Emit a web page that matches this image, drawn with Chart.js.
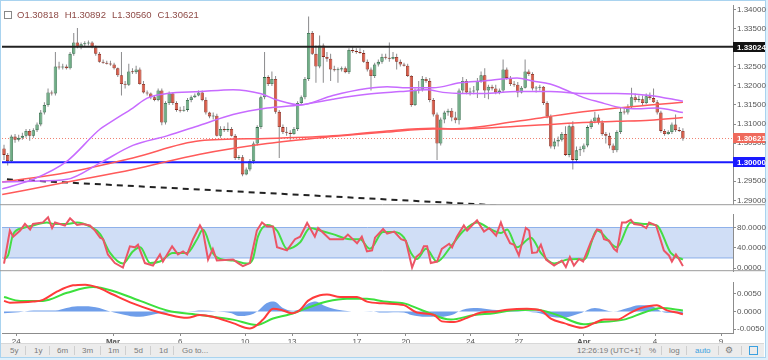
<!DOCTYPE html>
<html><head><meta charset="utf-8">
<script src="https://cdn.jsdelivr.net/npm/chart.js@4.4.1/dist/chart.umd.min.js"></script>
<style>
html,body{margin:0;padding:0;background:#dff0fb;}
#wrap{position:relative;width:768px;height:360px;overflow:hidden;background:#dff0fb;font-family:"Liberation Sans",Arial,sans-serif;}
#frame{position:absolute;left:0;top:0;width:764px;height:356px;border:1px solid #a9d3ef;background:#fff;}
canvas{position:absolute;left:0;}
#legend{position:absolute;left:4px;top:9px;font-size:9.5px;color:#8e4a46;white-space:nowrap;}
#legend .ic{display:inline-block;width:6px;height:6px;border:1px solid #888;margin-right:5px;position:relative;top:1px;}
#legend span{margin-right:6px;}
#tb{position:absolute;left:1px;top:343px;width:763px;height:13px;background:#ececec;border-top:1px solid #d8d8d8;font-size:8px;color:#7a7a7a;}
#tb span{position:absolute;top:2px;}
#tb i{position:absolute;top:2px;width:1px;height:9px;background:#cfcfcf;}
</style></head><body>
<div id="wrap">
<div id="frame"></div>
<canvas id="c1" width="768" height="210" style="top:0"></canvas>
<canvas id="c2" width="768" height="68" style="top:209px"></canvas>
<canvas id="c3" width="768" height="69" style="top:277px"></canvas>
<div id="legend"><span class="ic"></span><span>O1.30818</span><span>H1.30892</span><span>L1.30560</span><span>C1.30621</span></div>
<div id="tb">
<span style="left:9px">5y</span><i style="left:24px"></i>
<span style="left:33px">1y</span><i style="left:48px"></i>
<span style="left:56px">6m</span><i style="left:73px"></i>
<span style="left:81px">3m</span><i style="left:99px"></i>
<span style="left:107px">1m</span><i style="left:124px"></i>
<span style="left:133px">5d</span><i style="left:149px"></i>
<span style="left:158px">1d</span><i style="left:172px"></i>
<span style="left:181px">Go to...</span>
<span style="left:576px">12:26:19 (UTC+1)</span><i style="left:639px"></i>
<span style="left:648px">%</span><i style="left:660px"></i>
<span style="left:668px">log</span><i style="left:685px"></i>
<span style="left:694px;color:#3aa0e0">auto</span><i style="left:717px"></i>
<span style="left:724px;font-size:9px;top:1px">&#9881;</span><i style="left:740px"></i>
<span style="left:748px;top:2px;width:7px;height:7px;border:1px solid #3aa0e0"></span>
</div>
</div>
<script>
// ---------- DATA ----------
const open = [1.3036,1.3019,1.3003,1.3067,1.3059,1.3064,1.3069,1.3082,1.3069,1.3084,
1.3099,1.3130,1.3150,1.3183,1.3180,1.3251,1.3248,1.3251,1.3246,1.3284,
1.3314,1.3301,1.3309,1.3311,1.3314,1.3301,1.3284,1.3263,1.3261,1.3258,
1.3256,1.3246,1.3228,1.3205,1.3203,1.3238,1.3236,1.3243,1.3205,1.3183,
1.3180,1.3170,1.3163,1.3188,1.3104,1.3155,1.3180,1.3155,1.3137,1.3135,
1.3137,1.3163,1.3170,1.3175,1.3183,1.3163,1.3130,1.3120,1.3122,1.3069,
1.3087,1.3084,1.3087,1.3069,1.3011,1.3013,1.2968,1.2981,1.3003,1.3049,
1.3092,1.3170,1.3223,1.3205,1.3218,1.3132,1.3092,1.3079,1.3077,1.3074,
1.3087,1.3155,1.3170,1.3218,1.3339,1.3284,1.3251,1.3306,1.3276,1.3271,
1.3243,1.3241,1.3243,1.3246,1.3236,1.3294,1.3291,1.3289,1.3286,1.3263,
1.3243,1.3226,1.3256,1.3263,1.3276,1.3274,1.3271,1.3276,1.3263,1.3256,
1.3253,1.3226,1.3150,1.3188,1.3190,1.3218,1.3213,1.3163,1.3125,1.3049,
1.3112,1.3130,1.3135,1.3117,1.3110,1.3188,1.3213,1.3183,1.3185,1.3188,
1.3213,1.3228,1.3188,1.3198,1.3193,1.3183,1.3188,1.3243,1.3221,1.3205,
1.3203,1.3183,1.3195,1.3238,1.3231,1.3193,1.3195,1.3198,1.3155,1.3120,
1.3041,1.3054,1.3059,1.3074,1.3019,1.3094,1.3006,1.3031,1.3034,1.3044,
1.3092,1.3107,1.3117,1.3104,1.3074,1.3069,1.3044,1.3031,1.3079,1.3132,
1.3130,1.3145,1.3170,1.3163,1.3165,1.3155,1.3173,1.3168,1.3157,1.3130,
1.3082,1.3074,1.3079,1.3099,1.3084,1.30818];
const high = [1.3046,1.3024,1.3072,1.3074,1.3072,1.3077,1.3087,1.3087,1.3089,1.3104,
1.3137,1.3157,1.3193,1.3188,1.3289,1.3263,1.3258,1.3256,1.3289,1.3339,
1.3352,1.3314,1.3317,1.3319,1.3317,1.3306,1.3289,1.3269,1.3266,1.3266,
1.3261,1.3248,1.3289,1.3213,1.3258,1.3246,1.3253,1.3248,1.3213,1.3188,
1.3183,1.3175,1.3193,1.3193,1.3160,1.3185,1.3183,1.3160,1.3145,1.3147,
1.3168,1.3175,1.3180,1.3188,1.3188,1.3170,1.3132,1.3130,1.3127,1.3094,
1.3094,1.3104,1.3092,1.3074,1.3019,1.3019,1.2986,1.3008,1.3054,1.3097,
1.3175,1.3289,1.3228,1.3238,1.3226,1.3137,1.3099,1.3092,1.3084,1.3092,
1.3160,1.3175,1.3223,1.3382,1.3344,1.3306,1.3332,1.3311,1.3289,1.3284,
1.3253,1.3248,1.3251,1.3251,1.3299,1.3301,1.3299,1.3299,1.3294,1.3269,
1.3248,1.3261,1.3269,1.3284,1.3284,1.3314,1.3289,1.3284,1.3269,1.3261,
1.3258,1.3228,1.3193,1.3213,1.3226,1.3223,1.3221,1.3168,1.3130,1.3117,
1.3135,1.3140,1.3142,1.3132,1.3193,1.3223,1.3218,1.3195,1.3200,1.3221,
1.3238,1.3246,1.3203,1.3203,1.3203,1.3193,1.3269,1.3248,1.3226,1.3213,
1.3210,1.3200,1.3269,1.3243,1.3236,1.3200,1.3203,1.3200,1.3160,1.3125,
1.3062,1.3067,1.3079,1.3094,1.3099,1.3107,1.3041,1.3041,1.3049,1.3097,
1.3112,1.3132,1.3125,1.3110,1.3079,1.3077,1.3049,1.3084,1.3142,1.3142,
1.3152,1.3195,1.3180,1.3175,1.3175,1.3180,1.3183,1.3193,1.3163,1.3135,
1.3087,1.3084,1.3104,1.3125,1.3092,1.30892];
const low = [1.3006,1.2991,1.2998,1.3051,1.3054,1.3059,1.3064,1.3056,1.3064,1.3079,
1.3094,1.3125,1.3145,1.3175,1.3175,1.3243,1.3243,1.3243,1.3243,1.3279,
1.3299,1.3296,1.3304,1.3306,1.3299,1.3279,1.3261,1.3258,1.3256,1.3253,
1.3243,1.3223,1.3175,1.3193,1.3200,1.3231,1.3231,1.3203,1.3180,1.3175,
1.3165,1.3160,1.3160,1.3097,1.3099,1.3150,1.3150,1.3132,1.3130,1.3132,
1.3132,1.3157,1.3168,1.3173,1.3160,1.3125,1.3115,1.3112,1.3067,1.3064,
1.3079,1.3079,1.3067,1.3006,1.3006,1.2963,1.2966,1.2976,1.2996,1.3044,
1.3087,1.3165,1.3200,1.3200,1.3127,1.3011,1.3074,1.3069,1.3059,1.3072,
1.3082,1.3150,1.3165,1.3213,1.3281,1.3208,1.3246,1.3208,1.3263,1.3213,
1.3238,1.3208,1.3238,1.3233,1.3231,1.3286,1.3284,1.3284,1.3261,1.3238,
1.3188,1.3221,1.3251,1.3258,1.3269,1.3263,1.3269,1.3243,1.3251,1.3251,
1.3223,1.3145,1.3147,1.3180,1.3185,1.3208,1.3157,1.3120,1.3006,1.3044,
1.3102,1.3122,1.3107,1.3102,1.3099,1.3180,1.3178,1.3175,1.3178,1.3168,
1.3208,1.3168,1.3165,1.3188,1.3178,1.3178,1.3183,1.3216,1.3200,1.3198,
1.3170,1.3180,1.3193,1.3226,1.3188,1.3183,1.3188,1.3150,1.3115,1.3036,
1.3034,1.3041,1.3054,1.3016,1.3013,1.2981,1.2998,1.3016,1.3026,1.3039,
1.3087,1.3102,1.3099,1.3069,1.3049,1.3036,1.3024,1.3026,1.3074,1.3125,
1.3125,1.3140,1.3157,1.3157,1.3150,1.3152,1.3163,1.3155,1.3125,1.3077,
1.3069,1.3072,1.3074,1.3079,1.3079,1.3056];
const close = [1.3019,1.3003,1.3067,1.3059,1.3064,1.3069,1.3082,1.3069,1.3084,1.3099,
1.3130,1.3150,1.3183,1.3180,1.3251,1.3248,1.3251,1.3246,1.3284,1.3314,
1.3301,1.3309,1.3311,1.3314,1.3301,1.3284,1.3263,1.3261,1.3258,1.3256,
1.3246,1.3228,1.3205,1.3203,1.3238,1.3236,1.3243,1.3205,1.3183,1.3180,
1.3170,1.3163,1.3188,1.3104,1.3155,1.3180,1.3155,1.3137,1.3135,1.3137,
1.3163,1.3170,1.3175,1.3183,1.3163,1.3130,1.3120,1.3122,1.3069,1.3087,
1.3084,1.3087,1.3069,1.3011,1.3013,1.2968,1.2981,1.3003,1.3049,1.3092,
1.3170,1.3223,1.3205,1.3218,1.3132,1.3092,1.3079,1.3077,1.3074,1.3087,
1.3155,1.3170,1.3218,1.3339,1.3284,1.3251,1.3306,1.3276,1.3271,1.3243,
1.3241,1.3243,1.3246,1.3236,1.3294,1.3291,1.3289,1.3286,1.3263,1.3243,
1.3226,1.3256,1.3263,1.3276,1.3274,1.3271,1.3276,1.3263,1.3256,1.3253,
1.3226,1.3150,1.3188,1.3190,1.3218,1.3213,1.3163,1.3125,1.3049,1.3112,
1.3130,1.3135,1.3117,1.3110,1.3188,1.3213,1.3183,1.3185,1.3188,1.3213,
1.3228,1.3188,1.3198,1.3193,1.3183,1.3188,1.3243,1.3221,1.3205,1.3203,
1.3183,1.3195,1.3238,1.3231,1.3193,1.3195,1.3198,1.3155,1.3120,1.3041,
1.3054,1.3059,1.3074,1.3019,1.3094,1.3006,1.3031,1.3034,1.3044,1.3092,
1.3107,1.3117,1.3104,1.3074,1.3069,1.3044,1.3031,1.3079,1.3132,1.3130,
1.3145,1.3170,1.3163,1.3165,1.3155,1.3173,1.3168,1.3157,1.3130,1.3082,
1.3074,1.3079,1.3099,1.3084,1.30818,1.30621];

// moving averages: [bar, price]
const maFastPurple = [[-0.5,1.2930],[7.9,1.2955],[17.2,1.3003],[26.2,1.3087],[30.2,1.3112],[35.1,1.3142],[39,1.3168],[44.4,1.3180],[53.4,1.3185],[62.4,1.3190],[69.8,1.3180],[74.4,1.3163],[80.7,1.3150],[89.6,1.3175],[98.9,1.3193],[104.4,1.3198],[109.8,1.3195],[116.9,1.3195],[124.3,1.3208],[130.5,1.3213],[139.8,1.3221],[144.1,1.3213],[148.8,1.3205],[153.4,1.3188],[157.8,1.3170],[162.4,1.3157],[167,1.3145],[171.4,1.3140],[177.9,1.3142],[185,1.3130]];
const maSlowPurple = [[-0.5,1.2948],[7.9,1.2950],[17.2,1.2955],[26.2,1.2998],[35.1,1.3044],[44.4,1.3069],[53.4,1.3097],[62.4,1.3125],[71.7,1.3142],[80.7,1.3150],[89.6,1.3165],[98.9,1.3178],[107.9,1.3185],[115.3,1.3190],[119.6,1.3183],[124.3,1.3180],[130.5,1.3180],[139.8,1.3185],[148.8,1.3185],[157.8,1.3180],[167,1.3180],[176,1.3175],[185,1.3160]];
const maFastRed = [[-0.5,1.2948],[17.2,1.2973],[35.1,1.3011],[53.4,1.3056],[71.7,1.3062],[89.6,1.3069],[104.4,1.3082],[116.9,1.3089],[122,1.3087],[139.8,1.3107],[148.8,1.3120],[157.8,1.3132],[167,1.3142],[176,1.3150],[185,1.3157]];
const maSlowRed = [[-0.5,1.2915],[17.2,1.2948],[35.1,1.2981],[53.4,1.3021],[71.7,1.3049],[89.6,1.3067],[104.4,1.3079],[116.9,1.3087],[124.3,1.3087],[139.8,1.3094],[148.8,1.3099],[157.8,1.3104],[167,1.3107],[176,1.3110],[185,1.3117]];
const trendLine = [[0.8,1.2955],[134.3,1.2887]];
const resistance = 1.33024;
const support = 1.30000;

// stochastic: [bar, value]
const stochK = [[0,9],[1.6,74],[2.5,62],[4.4,74],[5.7,87],[7.1,76],[7.9,87],[10.6,90],[12,100],[13.1,79],[13.9,90],[16.6,84],[18,98],[19.9,85],[21.5,87],[23.4,84],[24.8,74],[26.2,60],[27,57],[28.3,27],[30.2,10],[32.4,1],[34.3,43],[35.7,41],[36.5,46],[38.4,10],[40.6,5],[42.5,27],[43.3,13],[45.8,43],[47.4,27],[48.8,33],[49.9,27],[51.5,57],[53.4,84],[54.2,74],[55.6,17],[56.9,38],[58,15],[62.4,17],[63.8,10],[65.1,4],[67,10],[68.9,74],[70.3,90],[71.7,82],[73.3,82],[74.4,41],[77.1,35],[79.3,57],[80.7,62],[82.6,89],[84.7,62],[85.6,79],[88.8,57],[92.4,57],[93.7,66],[96.2,49],[97.5,62],[98.9,33],[100.3,35],[101.1,60],[103.3,77],[104.4,68],[106.3,72],[108.2,57],[109.5,54],[111.2,1],[112.3,22],[113.6,30],[114.4,43],[115.3,43],[116.3,10],[118,13],[119.3,38],[121.3,48],[122.1,41],[123.4,62],[125.3,84],[126.2,74],[127.5,84],[128.9,94],[130.8,72],[132.2,79],[134.1,64],[135.4,90],[136.2,74],[137.9,49],[139,46],[140.3,25],[142.2,79],[143.1,74],[143.9,30],[145.2,31],[146.3,46],[147.7,17],[149.9,5],[152,15],[153.1,2],[154.2,22],[155.3,5],[156.7,18],[157.8,13],[159.9,51],[161.6,76],[162.7,74],[163.5,57],[164.9,54],[166.2,38],[167,33],[168.4,90],[169.5,90],[170.8,95],[171.7,87],[173.6,85],[175,79],[175.8,90],[177.7,84],[179.8,35],[181.2,25],[182,13],[183.1,27],[184,17],[185,4]];
const stochD = [[0,18],[1.1,25],[2.5,67],[5.2,79],[7.9,84],[11.7,90],[13.4,87],[17.2,87],[19.9,90],[23.4,82],[26.2,67],[28.9,30],[32.4,9],[35.1,33],[37.1,41],[39.8,10],[42.5,13],[46,30],[49.9,30],[52.6,57],[54.2,76],[56.9,30],[58.9,18],[62.4,15],[66.2,9],[67.8,18],[69.2,62],[71.7,85],[74.4,74],[77.1,38],[80.7,51],[83.4,79],[86.1,74],[89.6,67],[94.3,57],[97,57],[99.7,38],[103.3,71],[106.3,71],[109,60],[110.9,30],[112.5,18],[115,38],[118,13],[121.8,43],[125.3,74],[128.9,90],[132.7,76],[135.4,69],[137.1,76],[139.8,41],[143.6,60],[146.3,30],[149.9,9],[153.5,17],[156.2,18],[158.1,17],[161.6,74],[167,41],[170.8,90],[174.4,87],[177.9,84],[181.7,30],[185,17]];
const stochBands = [80, 20];

// MACD: [bar, value]
const macdLine = [[0,0.0030],[1.6,0.0025],[7.9,0.0028],[10.6,0.0033],[14.4,0.0056],[18.8,0.0074],[22.1,0.0076],[25.3,0.0069],[29.7,0.0048],[35.1,0.0023],[40.6,0.0003],[44.4,-0.0008],[49.9,-0.0018],[53.4,-0.0010],[56.9,-0.0015],[62.4,-0.0033],[67,-0.0048],[70.6,-0.0023],[73.3,0.0008],[76,0.0003],[78.5,-0.0005],[80.7,0.0005],[82.8,0.0030],[86.1,0.0046],[88,0.0048],[91.6,0.0041],[96.2,0.0041],[98.9,0.0028],[103.5,0.0023],[109,0.0018],[112.5,-0.0003],[117.2,-0.0010],[119.3,-0.0028],[122.6,-0.0030],[126.2,-0.0018],[130,-0.0003],[134.3,0.0000],[137.1,0.0005],[142.5,0.0008],[146.3,0.0003],[149,-0.0020],[152.6,-0.0033],[157.5,-0.0046],[160.8,-0.0033],[163.5,-0.0023],[167,-0.0023],[170.8,-0.0003],[173.6,0.0010],[177.9,0.0018],[180.7,0.0003],[183.4,-0.0003],[185,-0.0008]];
const macdSignal = [[0,0.0041],[4.4,0.0030],[10.6,0.0030],[17.2,0.0053],[24.3,0.0069],[29.7,0.0058],[37.1,0.0030],[44.4,0.0003],[53.4,-0.0010],[62.4,-0.0023],[68.9,-0.0038],[73.3,-0.0020],[77.9,-0.0008],[82.6,0.0010],[88,0.0028],[93.5,0.0036],[98.9,0.0036],[103.5,0.0028],[109,0.0023],[113.6,0.0005],[121.8,-0.0023],[128.1,-0.0010],[133.5,-0.0005],[138.1,0.0003],[145.2,0.0005],[150.7,-0.0010],[158,-0.0036],[162.7,-0.0030],[168.9,-0.0023],[174.4,-0.0003],[179,0.0010],[185,0.0003]];
const macdHist = [[0,-0.0005],[4,-0.0002],[8,0.0003],[14,0.0003],[17,0.0010],[20,0.0015],[22,0.0015],[26,0.0010],[28,0.0003],[30,-0.0003],[33,-0.0010],[36,-0.0015],[38,-0.0014],[41,-0.0008],[44,-0.0003],[50,0.0000],[54,0.0003],[58,0.0000],[62,-0.0005],[64,-0.0013],[67,-0.0010],[69,0.0000],[71.5,0.0023],[73.5,0.0028],[76,0.0010],[78.5,0.0002],[81,0.0008],[83,0.0023],[85,0.0028],[87,0.0018],[91,0.0005],[96,0.0000],[100,0.0001],[103,-0.0003],[106,-0.0002],[109,-0.0003],[111,-0.0010],[115,-0.0015],[119,-0.0015],[122,-0.0010],[125,0.0005],[129,0.0010],[133,0.0005],[138,0.0003],[142,0.0000],[146,-0.0005],[149,-0.0015],[152,-0.0018],[157,-0.0005],[161,0.0010],[166,0.0000],[170,0.0010],[173,0.0018],[176,0.0017],[180,-0.0003],[185,-0.0005]];

// axes
const priceTicks = [1.29,1.295,1.30,1.305,1.31,1.315,1.32,1.325,1.33,1.335,1.34];
const stochTicks = [0,40,80];
const macdTicks = [-0.005,0,0.005];
const dateTickLabels = ['24','Mar','6','10','13','17','20','24','27','Apr','4','9'];
const dateTickBars = [3.3,29.7,48,65.7,78.5,96.2,109.5,127.1,140.3,158,177.4,195.4];

// ---------- RENDER ----------
const FONT = '"Liberation Sans", Arial, sans-serif';
const X_MIN = -0.55, X_MAX = 198.65;
const UP = '#6fae86', UP_B = '#2f6b47', DN = '#dc5a46', DN_B = '#8a2a1e';
const pts = a => a.map(([x, y]) => ({x, y}));
const hline = v => [{x: X_MIN, y: v}, {x: X_MAX, y: v}];

function xAxis(show) {
  return {
    type: 'linear', min: X_MIN, max: X_MAX, offset: false, display: show,
    afterBuildTicks: s => { s.ticks = dateTickBars.map(v => ({value: v})); },
    afterFit: s => { if (show) s.height = 13; },
    grid: {display: show, drawOnChartArea: false, drawTicks: true, tickLength: 3, color: '#8c8c8c'},
    border: {display: show, color: '#8c8c8c'},
    ticks: {autoSkip: false, maxRotation: 0, padding: 1, color: '#555',
      font: c => ({family: FONT, size: 8, weight: /[A-Za-z]/.test(dateTickLabels[c.index] || '') ? 'bold' : 'normal'}),
      callback: (v, i) => dateTickLabels[i]}
  };
}
function yAxis(min, max, tv, dec) {
  return {
    type: 'linear', position: 'right', min, max,
    afterBuildTicks: s => { s.ticks = tv.map(v => ({value: v})); },
    afterFit: s => { s.width = 35; },
    grid: {drawOnChartArea: false, drawTicks: true, tickLength: 3, color: '#8c8c8c'},
    border: {display: true, color: '#8c8c8c'},
    ticks: {padding: 1, color: '#555', font: {family: FONT, size: 8}, callback: v => v.toFixed(dec)}
  };
}
const sepPlugin = {
  id: 'sep',
  afterDraw(chart) {
    const c = chart.ctx, a = chart.chartArea;
    const y = a.bottom - 0.5 + (chart.canvas.id === 'c1' ? 1 : 0);
    c.save(); c.strokeStyle = '#9a9a9a'; c.lineWidth = 1;
    c.beginPath(); c.moveTo(0, y); c.lineTo(765, y); c.stroke();
    c.restore();
  }
};
const boxPlugin = {
  id: 'boxes',
  afterDraw(chart) {
    const s = chart.scales.y, c = chart.ctx;
    const items = [[resistance, '#131313'], [close[close.length - 1], '#ef6a5c'], [support, '#1a1aff']];
    c.save();
    items.forEach(([v, bg]) => {
      const y = Math.round(s.getPixelForValue(v));
      c.fillStyle = bg; c.fillRect(s.left, y - 5, 32, 10);
      c.fillStyle = '#fff'; c.font = 'bold 8px ' + FONT; c.textBaseline = 'middle'; c.textAlign = 'left';
      c.fillText(v.toFixed(5), s.left + 4, y + 0.5);
    });
    c.restore();
  }
};
const base = {
  responsive: false, animation: false, devicePixelRatio: 1,
  plugins: {legend: {display: false}, tooltip: {enabled: false}},
  events: []
};
const lineDs = (data, color, w, extra) => Object.assign({type: 'line', data, borderColor: color, borderWidth: w, pointRadius: 0, fill: false, cubicInterpolationMode: 'monotone'}, extra || {});

// main pane
new Chart(document.getElementById('c1'), {
  type: 'bar',
  data: {datasets: [
    lineDs(pts(maFastPurple), '#c76bff', 1.5, {order: 2}),
    lineDs(pts(maSlowPurple), '#c76bff', 1.5, {order: 2}),
    lineDs(pts(maFastRed), '#ff5a5a', 1.5, {order: 2}),
    lineDs(pts(maSlowRed), '#ff5a5a', 1.5, {order: 2}),
    lineDs(pts(trendLine), '#222', 2, {borderDash: [6, 5], order: 2, cubicInterpolationMode: 'default'}),
    lineDs(hline(resistance), '#222', 2, {order: 2}),
    lineDs(hline(support), '#1a1aff', 2, {order: 2}),
    lineDs(hline(close[close.length - 1]), '#f08070', 1, {borderDash: [1, 2], order: 5}),
    {type: 'bar', data: close.map((c, i) => ({x: i, y: [open[i], c]})), barThickness: 3.4, minBarLength: 1, grouped: false, inflateAmount: 0,
      borderWidth: 0.8, borderSkipped: false, order: 3,
      backgroundColor: ctx => close[ctx.dataIndex] >= open[ctx.dataIndex] ? UP : DN,
      borderColor: ctx => close[ctx.dataIndex] >= open[ctx.dataIndex] ? UP_B : DN_B},
    {type: 'bar', data: close.map((c, i) => ({x: i, y: [low[i], high[i]]})), barThickness: 1, grouped: false, inflateAmount: 0,
      backgroundColor: '#8a8a8c', borderWidth: 0, order: 4}
  ]},
  options: Object.assign({}, base, {
    layout: {padding: {left: 2, top: 2, right: 0, bottom: 2}},
    scales: {x: xAxis(false), y: yAxis(1.28898, 1.3410, priceTicks, 5)}
  }),
  plugins: [sepPlugin, boxPlugin]
});

// stochastic pane
new Chart(document.getElementById('c2'), {
  type: 'line',
  data: {datasets: [
    lineDs(pts(stochK), '#ec5566', 2, {order: 1, cubicInterpolationMode: 'default'}),
    lineDs(pts(stochD), '#44dd44', 2, {order: 2}),
    lineDs(hline(stochBands[0]), '#8fb1ea', 1, {fill: '+1', backgroundColor: 'rgba(120,160,230,0.35)', order: 5, cubicInterpolationMode: 'default'}),
    lineDs(hline(stochBands[1]), '#8fb1ea', 1, {order: 5, cubicInterpolationMode: 'default'})
  ]},
  options: Object.assign({}, base, {
    layout: {padding: {left: 2, top: 0, right: 0, bottom: 0}},
    scales: {x: xAxis(false), y: yAxis(-6, 105, stochTicks, 4)}
  }),
  plugins: [sepPlugin]
});

// MACD pane
new Chart(document.getElementById('c3'), {
  type: 'line',
  data: {datasets: [
    lineDs(pts(macdLine), '#ff3b3b', 2, {order: 1}),
    lineDs(pts(macdSignal), '#3de03d', 2, {order: 2}),
    lineDs(pts(macdHist), 'rgba(0,0,0,0)', 0, {fill: 'origin', backgroundColor: '#6f9eea', order: 5})
  ]},
  options: Object.assign({}, base, {
    layout: {padding: {left: 2, top: 0, right: 0, bottom: 0}},
    scales: {x: xAxis(true), y: yAxis(-0.00609, 0.00812, macdTicks, 4)}
  })
});
</script>
</body></html>
